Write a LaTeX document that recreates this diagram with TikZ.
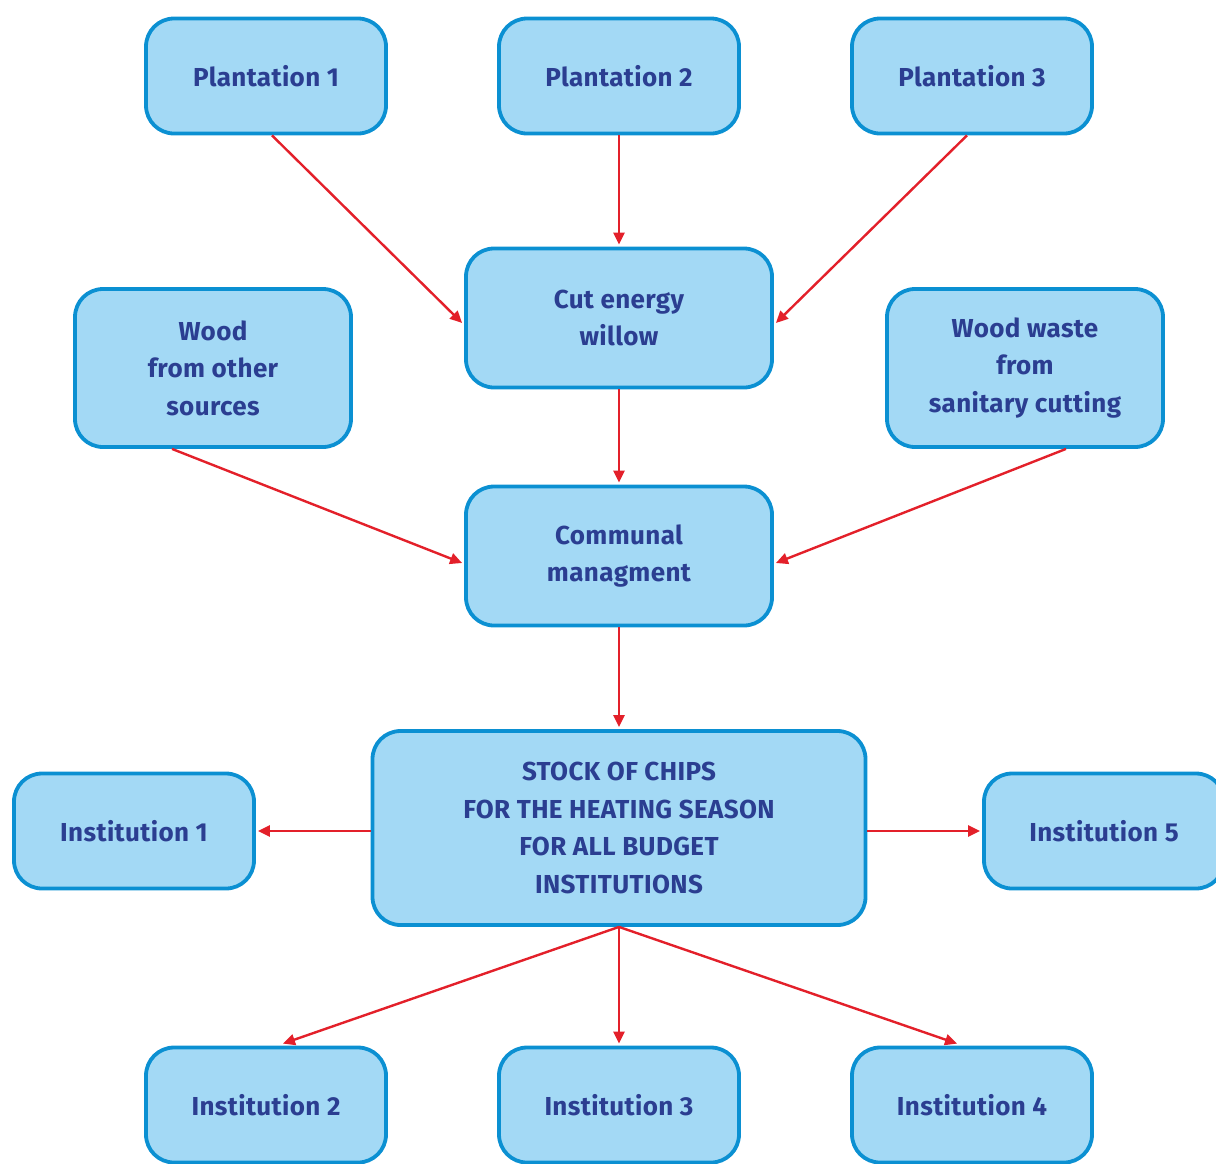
\documentclass[tikz,border=0pt]{standalone}
\usepackage{fontspec}
\setmainfont{Fira Sans}
\usetikzlibrary{arrows.meta}
\definecolor{boxfill}{HTML}{A3D9F5}
\definecolor{boxline}{HTML}{0B90D2}
\definecolor{txt}{HTML}{2B3E91}
\definecolor{arrred}{HTML}{E3202A}
\tikzset{
  box/.style={draw=boxline, fill=boxfill, line width=3.8pt, rounded corners=28pt,
    minimum width=240pt, minimum height=115pt, align=center, text=txt,
    font=\fontsize{26}{37.5}\selectfont\bfseries\addfontfeatures{LetterSpace=1.5}, inner sep=0pt},
  arr/.style={draw=arrred, line width=2.4pt, -{Triangle[length=12pt,width=11pt]}}
}
\begin{document}
\begin{tikzpicture}[x=1pt,y=-1pt]
\useasboundingbox (0,0) rectangle (1216,1163);
\node[box] (p1) at (266,76) {Plantation 1};
\node[box] (p2) at (619,76) {Plantation 2};
\node[box] (p3) at (972,76) {Plantation 3};
\node[box, minimum width=306pt, minimum height=139pt] (cut) at (619,318) {Cut energy\\willow};
\node[box, minimum width=276pt, minimum height=158pt] (wo) at (213,368) {Wood\\from other\\sources};
\node[box, minimum width=276pt, minimum height=158pt] (ww) at (1025,368) {Wood waste\\from\\sanitary cutting};
\node[box, minimum width=306pt, minimum height=139pt] (com) at (619,556) {Communal\\managment};
\node[box, minimum width=493pt, minimum height=194pt] (stock) at (619,828) {STOCK OF CHIPS\\FOR THE HEATING SEASON\\FOR ALL BUDGET\\INSTITUTIONS};
\node[box] (i1) at (134,831) {Institution 1};
\node[box] (i5) at (1104,831) {Institution 5};
\node[box] (i2) at (266,1105) {Institution 2};
\node[box] (i3) at (619,1105) {Institution 3};
\node[box] (i4) at (972,1105) {Institution 4};
\draw[arr] ([xshift=6pt]p1.south) -- ([xshift=-2pt,yshift=-5pt]cut.west);
\draw[arr] (p2.south) -- ([yshift=2pt]cut.north);
\draw[arr] ([xshift=-5pt]p3.south) -- ([xshift=2pt,yshift=-5pt]cut.east);
\draw[arr] ([xshift=-41pt]wo.south) -- ([xshift=-2pt,yshift=-7pt]com.west);
\draw[arr] ([xshift=41pt]ww.south) -- ([xshift=2pt,yshift=-7pt]com.east);
\draw[arr] (cut.south) -- ([yshift=2pt]com.north);
\draw[arr] (com.south) -- ([yshift=2pt]stock.north);
\draw[arr] ([yshift=-3pt]stock.west) -- ([xshift=2pt]i1.east);
\draw[arr] ([yshift=-3pt]stock.east) -- ([xshift=-2pt]i5.west);
\draw[arr] (stock.south) -- ([xshift=17pt,yshift=2pt]i2.north);
\draw[arr] (stock.south) -- ([yshift=2pt]i3.north);
\draw[arr] (stock.south) -- ([xshift=-15pt,yshift=2pt]i4.north);
\end{tikzpicture}
\end{document}
